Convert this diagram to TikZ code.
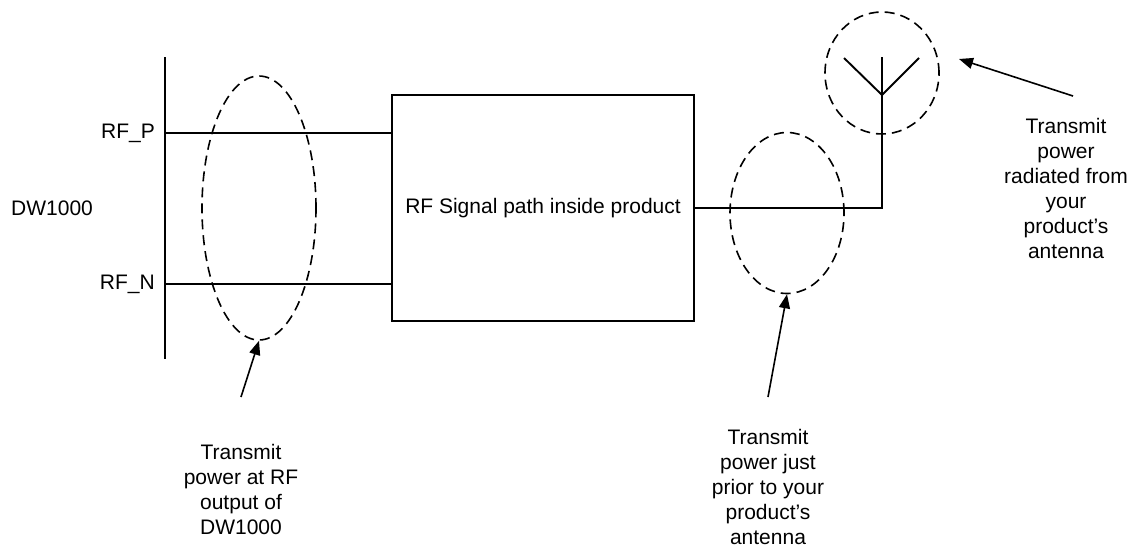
\documentclass[tikz,border=0pt]{standalone}
\usepackage{fontspec}
\setmainfont{Liberation Sans}
\usetikzlibrary{shapes.geometric,arrows.meta}
\begin{document}
\begin{tikzpicture}[x=1pt,y=-1pt,
  wire/.style={line width=1.9pt},
  ring/.style={draw,ellipse,dashed,dash pattern=on 10pt off 6pt,line width=1.6pt,inner sep=0pt},
  lbl/.style={font=\fontsize{21}{25}\selectfont,inner sep=0pt},
  note/.style={font=\fontsize{21}{25}\selectfont,align=center,inner sep=0pt},
  pointer/.style={line width=1.6pt,-{Triangle[length=14pt,width=11pt]}}]
\useasboundingbox (0,0) rectangle (1139,549);
% bus
\coordinate (bustop) at (165,57);
\coordinate (busbot) at (165,359);
\draw[wire] (bustop) -- (busbot);
% box
\node[draw,wire,minimum width=302pt,minimum height=226pt,inner sep=0pt] (box) at (543,208) {};
\node[lbl] (boxtxt) at (543,208) {RF Signal path inside product};
% pins
\coordinate (pstart) at (165,133);
\coordinate (nstart) at (165,284);
\draw[wire] (pstart) -- (pstart -| box.west);
\draw[wire] (nstart) -- (nstart -| box.west);
\node[lbl,anchor=east] (rfp) at (155,133) {RF\_P};
\node[lbl,anchor=east] (rfn) at (155,284) {RF\_N};
\node[lbl,anchor=west] (dw) at (11,208) {DW1000};
% antenna
\coordinate (corner) at (882,208);
\coordinate (feed) at (882,95);
\coordinate (mast) at (882,57);
\coordinate (armL) at (844,58);
\coordinate (armR) at (919,58);
\draw[wire] (box.east |- corner) -- (corner) -- (feed) -- (mast);
\draw[wire] (armL) -- (feed) -- (armR);
% rings
\node[ring,minimum width=114pt,minimum height=264pt] (e1) at (259,208) {};
\node[ring,minimum width=114pt,minimum height=161pt] (e3) at (787,213) {};
\node[ring,minimum width=114pt,minimum height=122pt] (e2) at (882,73) {};
% notes
\node[note] (n1) at (241,489) {Transmit\\power at RF\\output of\\DW1000};
\node[note] (n3) at (768,487) {Transmit\\power just\\prior to your\\product’s\\antenna};
\node[note] (n2) at (1066,188) {Transmit\\power\\radiated from\\your\\product’s\\antenna};
% pointers
\coordinate (t1) at (241,397);
\coordinate (t3) at (768,397);
\coordinate (t2) at (1073,96);
\coordinate (h2) at (959,59);
\draw[pointer] (t1) -- (e1.south);
\draw[pointer] (t3) -- (e3.south);
\draw[pointer] (t2) -- (h2);
\end{tikzpicture}
\end{document}
